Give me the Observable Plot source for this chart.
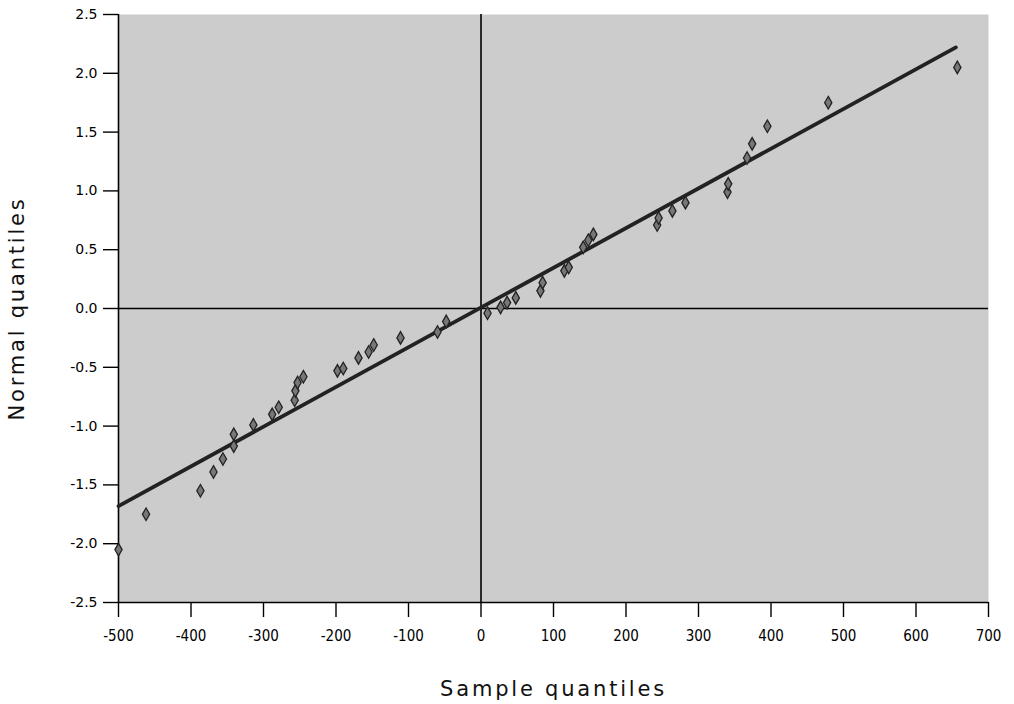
<!DOCTYPE html>
<html>
<head>
<meta charset="utf-8">
<script src="https://cdn.jsdelivr.net/npm/d3@7"></script>
<script src="https://cdn.jsdelivr.net/npm/@observablehq/plot@0.6"></script>
<style>
  html, body { margin: 0; padding: 0; background: #ffffff; }
  #chart svg { display: block; }
</style>
</head>
<body>
<div id="chart"></div>
<script>
// Sample quantiles (x) and normal quantiles (y)
const sampleQ = [-500, -462, -387, -369, -356, -341, -341, -314, -288, -279, -257, -256, -253, -245,
  -198, -190, -169, -155, -148, -111, -60, -48, 9, 27, 36, 48, 82, 85, 115, 121, 141, 148, 155,
  243, 245, 264, 282, 340, 341, 367, 374, 395, 479, 657];
const normalQ = [-2.05, -1.75, -1.55, -1.39, -1.28, -1.17, -1.07, -0.99, -0.90, -0.84, -0.78, -0.70, -0.63, -0.58,
  -0.53, -0.51, -0.42, -0.37, -0.31, -0.25, -0.20, -0.11, -0.04, 0.01, 0.05, 0.09, 0.15, 0.22, 0.32, 0.35, 0.52, 0.58, 0.63,
  0.71, 0.77, 0.83, 0.90, 0.99, 1.06, 1.28, 1.40, 1.55, 1.75, 2.05];
// Fitted line end points
const fitX = [-500, 655];
const fitY = [-1.68, 2.22];
// Tick values
const xTicks = [-500, -400, -300, -200, -100, 0, 100, 200, 300, 400, 500, 600, 700];
const yTicks = [-2.5, -2.0, -1.5, -1.0, -0.5, 0.0, 0.5, 1.0, 1.5, 2.0, 2.5];

const points = sampleQ.map((x, i) => ({x, y: normalQ[i]}));
const fit = fitX.map((x, i) => ({x, y: fitY[i]}));

const chart = Plot.plot({
  width: 1014,
  height: 704,
  marginLeft: 118,
  marginRight: 26,
  marginTop: 14,
  marginBottom: 102,
  style: {fontFamily: "'DejaVu Sans', Verdana, sans-serif", fontSize: "14px", color: "#000", background: "#fff"},
  x: {domain: [-500, 700]},
  y: {domain: [-2.5, 2.5]},
  marks: [
    Plot.frame({fill: "#cccccc", stroke: "none"}),
    Plot.ruleX([0], {stroke: "#000", strokeWidth: 1.6}),
    Plot.ruleY([0], {stroke: "#000", strokeWidth: 1.6}),
    Plot.ruleX([-500], {stroke: "#000", strokeWidth: 1.6}),
    Plot.ruleY([-2.5], {stroke: "#000", strokeWidth: 1.6}),
    Plot.line(fit, {x: "x", y: "y", stroke: "#222", strokeWidth: 3.8}),
    Plot.dot(points, {x: "x", y: "y", symbol: "diamond", r: 3.8, fill: "#777", stroke: "#222", strokeWidth: 1.3}),
    Plot.axisX({ticks: xTicks, tickSize: 15, tickPadding: 13, tickFormat: d => String(d),
      stroke: "#000", strokeWidth: 1.4, fontSize: 15, fontFamily: "'DejaVu Sans Condensed', 'DejaVu Sans', sans-serif",
      letterSpacing: "-0.8px",
      label: "Sample quantiles", labelAnchor: "center", labelArrow: "none", labelOffset: 93}),
    Plot.axisY({ticks: yTicks, tickSize: 15, tickPadding: 6, tickFormat: d => d.toFixed(1),
      stroke: "#000", strokeWidth: 1.4, fontSize: 14,
      label: "Normal quantiles", labelAnchor: "center", labelArrow: "none", labelOffset: 109})
  ]
});
// axis titles larger and slightly spaced
chart.querySelectorAll("g[aria-label='x-axis label'] text, g[aria-label='y-axis label'] text").forEach(t => {
  t.setAttribute("font-size", "21");
  t.setAttribute("font-family", "'DejaVu Sans', Verdana, sans-serif");
  t.setAttribute("letter-spacing", "2.8px");
  t.setAttribute("fill", "#111");
});
document.getElementById("chart").appendChild(chart);
</script>
</body>
</html>
